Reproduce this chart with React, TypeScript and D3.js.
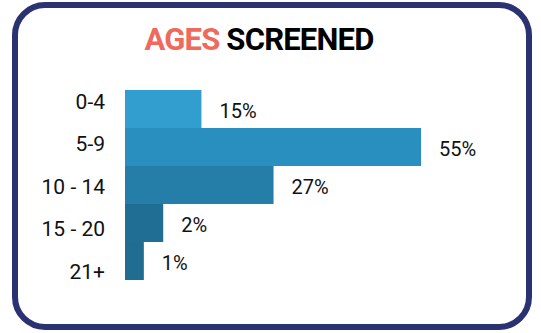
import React from "react";
import * as d3 from "d3";

const categories = ["0-4", "5-9", "10 - 14", "15 - 20", "21+"];
const barValues = [14.2, 55, 27.6, 7.1, 3.5];
const valueLabels = ["15%", "55%", "27%", "2%", "1%"];
const barColors = ["#319ecf", "#298fbe", "#247ea7", "#216e95", "#216c91"];
const titleParts = ["AGES", "SCREENED"];

const W = 541;
const H = 333;

export default function App() {
  const x = d3.scaleLinear().domain([0, 55]).range([125, 421]);
  const yBar = d3.scaleBand<string>().domain(categories).range([90, 280]).padding(0);
  const yLab = d3.scaleBand<string>().domain(categories).range([80.5, 292.5]).padding(0);
  const font = "Roboto, 'Open Sans', sans-serif";
  return (
    <svg
      width={W}
      height={H}
      style={{ position: "absolute", left: 0, top: 0, display: "block" }}
      fontFamily={font}
    >
      <rect x={0} y={0} width={W} height={H} fill="#ffffff" />
      <rect
        x={15}
        y={5}
        width={514}
        height={322}
        rx={30}
        ry={30}
        fill="#ffffff"
        stroke="#2b3272"
        strokeWidth={6}
      />
      <text x={259} y={50} textAnchor="middle" fontSize={31} fontWeight={700} letterSpacing={-0.8}>
        <tspan fill="#ee6a5c">{titleParts[0]}</tspan>
        <tspan fill="#000000">{" " + titleParts[1]}</tspan>
      </text>
      {categories.map((c, i) => (
        <g key={c}>
          <rect
            x={x(0)}
            y={yBar(c)!}
            width={x(barValues[i]) - x(0)}
            height={yBar.bandwidth()}
            fill={barColors[i]}
          />
          <text
            x={105}
            y={yLab(c)! + yLab.bandwidth() / 2}
            dy="0.35em"
            textAnchor="end"
            fontSize={21}
            fill="#111111"
          >
            {c}
          </text>
          <text
            x={x(barValues[i]) + 18}
            y={yBar(c)! + yBar.bandwidth() / 2 + 2}
            dy="0.35em"
            textAnchor="start"
            fontSize={20}
            fill="#111111"
          >
            {valueLabels[i]}
          </text>
        </g>
      ))}
    </svg>
  );
}
